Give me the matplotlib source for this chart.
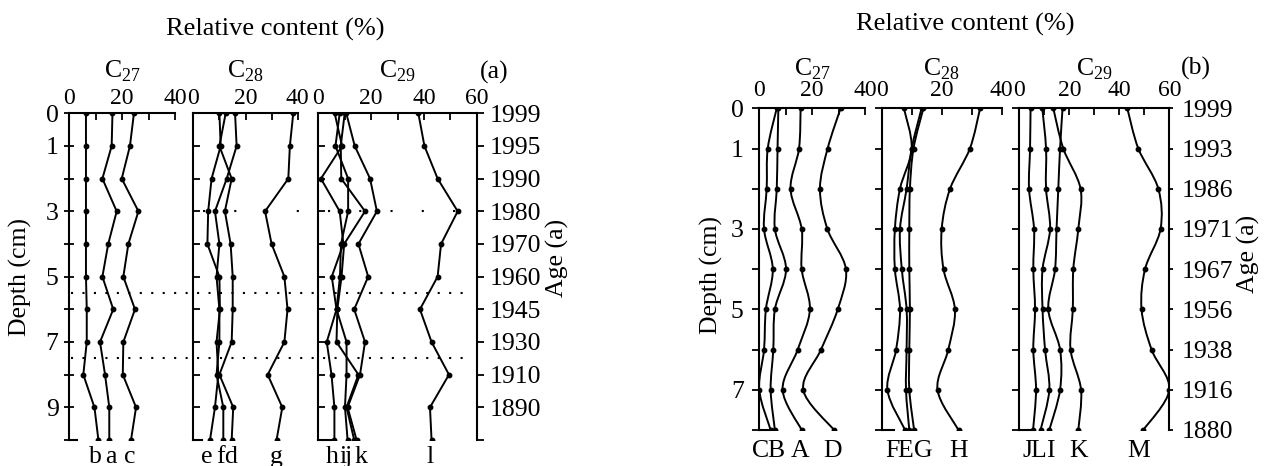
import numpy as np
import matplotlib
matplotlib.use("Agg")
import matplotlib.pyplot as plt
from matplotlib.path import Path
from matplotlib.patches import PathPatch
from matplotlib.lines import Line2D
import matplotlib.transforms as mtransforms

plt.rcParams['font.family'] = ['Liberation Serif', 'DejaVu Serif']
plt.rcParams['mathtext.fontset'] = 'custom'
plt.rcParams['mathtext.rm'] = 'Liberation Serif'

# ---------------- data: panel (a) ----------------
depth_a = [0, 1, 2, 3, 4, 5, 6, 7, 8, 9, 10]
depth_labels_a = [0, 1, 3, 5, 7, 9]
age_depth_a = [0, 1, 2, 3, 4, 5, 6, 7, 8, 9]
age_labels_a = ['1999', '1995', '1990', '1980', '1970', '1960', '1945', '1930', '1910', '1890']
event_depths_a = [5.5, 7.5]
event_depth_sparse_a = [3]

# C27 (a)
a_b = [6.4, 6.4, 6.4, 6.4, 6.4, 6.4, 6.7, 6.7, 5.4, 9.6, 11.1]
a_a = [16.4, 16.1, 12.6, 18.0, 14.8, 12.6, 16.7, 11.7, 13.6, 15.2, 15.2]
a_c = [24.5, 23.0, 19.9, 26.2, 22.4, 20.5, 24.9, 20.5, 20.3, 25.3, 23.4]
# C28 (a)
a_e = [10.0, 10.5, 7.0, 5.7, 5.4, 10.0, 10.2, 8.9, 9.6, 8.3, 6.4]
a_f = [16.0, 16.6, 12.8, 8.3, 10.0, 8.9, 10.0, 10.0, 8.9, 11.5, 11.5]
a_d = [12.4, 10.0, 14.7, 12.1, 14.3, 15.1, 15.1, 14.7, 10.0, 15.3, 14.7]
a_g = [38.3, 37.0, 36.4, 27.5, 30.0, 34.9, 36.1, 34.9, 28.5, 34.1, 31.9]
# C29 (a)
a_h = [6.2, 9.0, 1.0, 8.1, 9.5, 5.1, 6.9, 3.2, 5.0, 6.1, 6.1]
a_i = [8.1, 6.5, 11.3, 11.3, 8.6, 8.2, 6.9, 10.7, 10.7, 10.1, 11.1]
a_j = [10.0, 8.5, 8.7, 17.7, 9.8, 8.8, 7.2, 6.9, 15.2, 10.7, 13.6]
a_k = [10.6, 13.8, 19.6, 22.2, 15.2, 18.9, 13.6, 17.7, 15.8, 11.1, 14.5]
a_l = [37.9, 40.2, 45.2, 52.8, 46.5, 45.2, 38.5, 42.9, 49.5, 42.3, 42.9]

# ---------------- data: panel (b) ----------------
depth_b = [0, 1, 2, 3, 4, 5, 6, 7, 8]
depth_labels_b = [0, 1, 3, 5, 7]
age_labels_b = ['1999', '1993', '1986', '1971', '1967', '1956', '1938', '1916', '1880']

# C27 (b)
b_C = [6.7, 3.3, 2.9, 1.9, 5.2, 2.6, 1.9, 0.1, 4.4]
b_B = [7.3, 7.0, 6.7, 6.0, 10.2, 6.0, 5.4, 4.4, 6.0]
b_A = [15.7, 15.1, 11.9, 16.1, 16.1, 19.2, 14.6, 8.9, 16.1]
b_D = [30.8, 25.9, 23.0, 25.8, 32.8, 29.7, 23.4, 16.7, 28.3]
# C28 (b)
b_F = [7.4, 10.0, 6.1, 4.4, 4.4, 6.1, 4.8, 1.9, 7.8]
b_E = [13.3, 10.0, 8.3, 6.1, 6.7, 8.3, 8.3, 8.1, 9.2]
b_G = [13.9, 10.6, 9.4, 9.2, 9.2, 9.4, 9.2, 9.2, 10.8]
b_H = [32.8, 29.4, 22.8, 20.0, 20.6, 24.4, 22.2, 18.6, 25.6]
# C29 (b)
b_J = [4.5, 4.3, 3.9, 5.9, 5.6, 6.3, 5.6, 6.7, 5.5]
b_L = [9.2, 10.7, 10.7, 12.3, 9.3, 9.3, 10.3, 12.0, 8.5]
b_I = [17.3, 16.3, 15.6, 14.9, 14.3, 11.6, 16.3, 16.3, 12.0]
b_K = [13.6, 17.6, 24.5, 23.6, 21.6, 21.4, 20.5, 24.7, 23.6]
b_M = [43.2, 47.6, 55.6, 56.5, 50.3, 48.9, 52.9, 60.0, 49.6]

# ---------------- layout ----------------
W, H = 1266, 466
fig = plt.figure(figsize=(W / 100, H / 100), dpi=100)
FS = 18.5
FS_TOP = 17
LW = 1.4
MS = 3.2


def px_ax(x0, x1, y0, y1):
    return fig.add_axes([x0 / W, 1 - y1 / H, (x1 - x0) / W, (y1 - y0) / H])


def smooth_path(xs, ys):
    pts = np.column_stack([xs, ys]).astype(float)
    n = len(pts)
    verts = [pts[0]]
    codes = [Path.MOVETO]
    for i in range(n - 1):
        p0 = pts[i - 1] if i > 0 else pts[i]
        p1 = pts[i]
        p2 = pts[i + 1]
        p3 = pts[i + 2] if i + 2 < n else pts[i + 1]
        verts += [p1 + (p2 - p0) / 6.0, p2 - (p3 - p1) / 6.0, p2]
        codes += [Path.CURVE4] * 3
    return Path(verts, codes)


def setup(ax, xmax, xlabels, depth, left_dir, left_len, bottom_frac):
    ax.set_xlim(0, xmax)
    ax.set_ylim(depth[-1], 0)
    for s in ['left', 'top', 'bottom', 'right']:
        ax.spines[s].set_linewidth(1.5)
    ax.spines['right'].set_visible(False)
    ax.spines['bottom'].set_bounds(0, xmax * bottom_frac)
    ax.xaxis.tick_top()
    ax.set_xticks(xlabels)
    ax.set_xticklabels([str(v) for v in xlabels])
    ax.set_xticks(np.arange(10, xmax + 1, 10), minor=True)
    ax.tick_params(axis='x', which='both', direction='in', length=5, width=1.3,
                   labelsize=FS_TOP, pad=3, bottom=False, top=True)
    ax.set_yticks(depth)
    ax.set_yticklabels([])
    ax.tick_params(axis='y', which='both', direction=left_dir, length=left_len,
                   width=1.3, labelsize=FS, pad=4)
    ax.set_facecolor('none')


def draw(ax, series, depth, smooth=False):
    for vals in series:
        if smooth:
            ax.add_patch(PathPatch(smooth_path(vals, depth), fill=False,
                                   lw=LW, ec='black'))
        else:
            ax.plot(vals, depth, '-', color='black', lw=LW)
        ax.plot(vals, depth, 'o', color='black', ms=MS, ls='none')


def labels(ax, names, series, depth, offsets, dy):
    for name, vals, dx in zip(names, series, offsets):
        ax.annotate(name, xy=(vals[-1], depth[-1]), xycoords='data',
                    xytext=(dx, -dy), textcoords='offset pixels',
                    ha='center', va='baseline', fontsize=FS, annotation_clip=False)


# ----- panel (a) -----
ya0, ya1 = 113.3, 440
ax1 = px_ax(69, 175, ya0, ya1)
ax2 = px_ax(193.3, 297.7, ya0, ya1)
ax3 = px_ax(318.3, 476.7, ya0, ya1)
setup(ax1, 40, [0, 20, 40], depth_a, 'inout', 7, 0.08)
setup(ax2, 40, [0, 20, 40], depth_a, 'in', 5, 0.08)
setup(ax3, 60, [0, 20, 40, 60], depth_a, 'in', 5, 0.08)
ax1.set_yticklabels([str(d) if d in depth_labels_a else '' for d in depth_a])

draw(ax1, [a_b, a_a, a_c], depth_a)
draw(ax2, [a_e, a_f, a_d, a_g], depth_a)
draw(ax3, [a_h, a_i, a_j, a_k, a_l], depth_a)

labels(ax1, ['b', 'a', 'c'], [a_b, a_a, a_c], depth_a, [-3, 2, -1], 23)
labels(ax2, ['e', 'f', 'd', 'g'], [a_e, a_f, a_d, a_g], depth_a, [-3, -3, -1, 0], 23)
labels(ax3, ['h', 'i', 'j', 'k', 'l'], [a_h, a_i, a_j, a_k, a_l], depth_a,
       [-2, -5, -6, 4, -1], 23)

ax3r = ax3.twinx()
ax3r.set_ylim(depth_a[-1], 0)
ax3r.spines['right'].set_visible(True)
ax3r.spines['right'].set_linewidth(1.5)
for s in ['left', 'top', 'bottom']:
    ax3r.spines[s].set_visible(False)
ax3r.set_yticks(depth_a)
ax3r.set_yticklabels(age_labels_a + [''])
ax3r.tick_params(axis='y', direction='out', length=5, width=1.3, labelsize=FS, pad=4)
ax3.spines['right'].set_visible(False)

ax1.text(-0.46, 0.50, 'Depth (cm)', transform=ax1.transAxes, rotation=90,
         ha='center', va='center', fontsize=FS)
ax3.text(1.508, 0.557, 'Age (a)', transform=ax3.transAxes, rotation=90,
         ha='center', va='center', fontsize=FS)

for ax, nm in [(ax1, '27'), (ax2, '28'), (ax3, '29')]:
    ax.text(0.5, 1.111, r'C$_{\mathregular{' + nm + '}}$', transform=ax.transAxes,
            ha='center', va='baseline', fontsize=FS)
fig.text(494 / W, 1 - 72 / H, '(a)', ha='center', va='center', fontsize=FS)
fig.text(275 / W, 1 - 29 / H, 'Relative content (%)', ha='center', va='center',
         fontsize=FS + 0.5)

# event (dotted) lines across panel (a)
tr = mtransforms.blended_transform_factory(fig.transFigure, ax1.transData)
x_left = 71 / W
x_right = 469 / W
for dep in event_depths_a:
    fig.add_artist(Line2D([x_left, x_right], [dep, dep], transform=tr, color='black',
                          lw=1.5, linestyle=(0, (1, 4.5)), clip_on=False))
for dep in event_depth_sparse_a:
    fig.add_artist(Line2D([203 / W, x_right], [dep, dep], transform=tr, color='black',
                          lw=1.5, linestyle=(0, (1, 14)), clip_on=False))

# ----- panel (b) -----
yb0, yb1 = 108.3, 430
bx1 = px_ax(759, 865, yb0, yb1)
bx2 = px_ax(881.7, 1001.7, yb0, yb1)
bx3 = px_ax(1019.3, 1169.3, yb0, yb1)
for ax, xm, xl in [(bx1, 40, [0, 20, 40]), (bx2, 40, [0, 20, 40]),
                   (bx3, 60, [0, 20, 40, 60])]:
    setup(ax, xm, xl, depth_b, 'out', 5, 0.1)
    ax.tick_params(axis='x', pad=5)
bx1.set_yticklabels([str(d) if d in depth_labels_b else '' for d in depth_b])
bx1.tick_params(axis='y', pad=6)

draw(bx1, [b_C, b_B, b_A, b_D], depth_b, smooth=True)
draw(bx2, [b_F, b_E, b_G, b_H], depth_b, smooth=True)
draw(bx3, [b_J, b_L, b_I, b_K, b_M], depth_b, smooth=True)

labels(bx1, ['C', 'B', 'A', 'D'], [b_C, b_B, b_A, b_D], depth_b, [-10, 1, -2, -1], 27)
labels(bx2, ['F', 'E', 'G', 'H'], [b_F, b_E, b_G, b_H], depth_b, [-13, -4, 9, 0], 27)
labels(bx3, ['J', 'L', 'I', 'K', 'M'], [b_J, b_L, b_I, b_K, b_M], depth_b,
       [-6, -2, 1, 0, -5], 27)

bx3r = bx3.twinx()
bx3r.set_ylim(depth_b[-1], 0)
bx3r.spines['right'].set_visible(True)
bx3r.spines['right'].set_linewidth(1.5)
for s in ['left', 'top', 'bottom']:
    bx3r.spines[s].set_visible(False)
bx3r.set_yticks(depth_b)
bx3r.set_yticklabels(age_labels_b)
bx3r.tick_params(axis='y', direction='out', length=3, width=1.3, labelsize=FS, pad=6)

bx1.text(-0.453, 0.482, 'Depth (cm)', transform=bx1.transAxes, rotation=90,
         ha='center', va='center', fontsize=FS)
bx3.text(1.525, 0.547, 'Age (a)', transform=bx3.transAxes, rotation=90,
         ha='center', va='center', fontsize=FS)
for ax, nm in [(bx1, '27'), (bx2, '28'), (bx3, '29')]:
    ax.text(0.5, 1.1035, r'C$_{\mathregular{' + nm + '}}$', transform=ax.transAxes,
            ha='center', va='baseline', fontsize=FS)
fig.text(1196 / W, 1 - 68 / H, '(b)', ha='center', va='center', fontsize=FS)
fig.text(965 / W, 1 - 24 / H, 'Relative content (%)', ha='center', va='center',
         fontsize=FS + 0.5)

fig.savefig('out.png', dpi=100)
